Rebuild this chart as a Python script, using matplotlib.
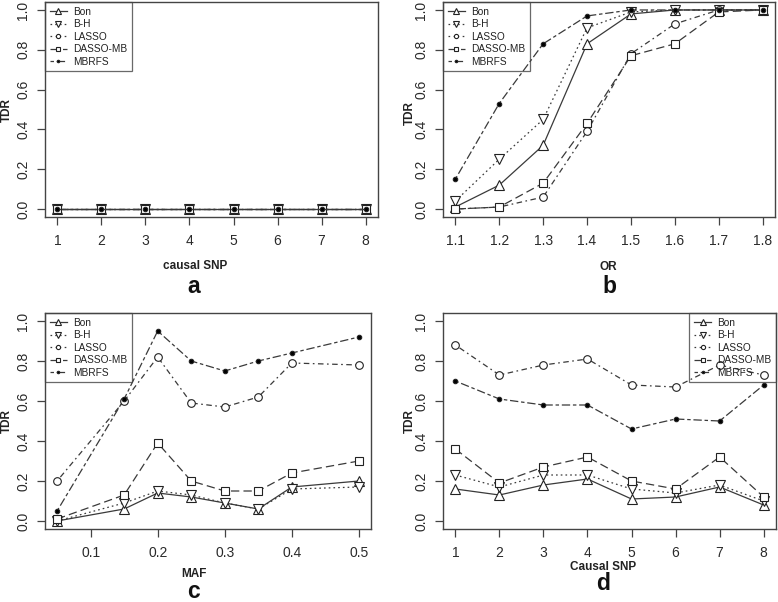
import matplotlib
matplotlib.use("Agg")
import matplotlib.pyplot as plt

plt.rcParams['font.family'] = ['Liberation Sans', 'DejaVu Sans']
plt.rcParams['lines.scale_dashes'] = False

methods = ["Bon", "B-H", "LASSO", "DASSO-MB", "MBRFS"]

# Panel a: causal SNP
x_a = [1, 2, 3, 4, 5, 6, 7, 8]
a_bon = [0, 0, 0, 0, 0, 0, 0, 0]
a_bh = [0, 0, 0, 0, 0, 0, 0, 0]
a_lasso = [0, 0, 0, 0, 0, 0, 0, 0]
a_dasso = [0, 0, 0, 0, 0, 0, 0, 0]
a_mbrfs = [0, 0, 0, 0, 0, 0, 0, 0]

# Panel b: OR
x_b = [1.1, 1.2, 1.3, 1.4, 1.5, 1.6, 1.7, 1.8]
b_bon = [0.01, 0.12, 0.32, 0.83, 0.98, 1.0, 1.0, 1.0]
b_bh = [0.04, 0.25, 0.45, 0.91, 0.99, 1.0, 1.0, 1.0]
b_lasso = [0.0, 0.01, 0.06, 0.39, 0.78, 0.93, 1.0, 1.0]
b_dasso = [0.0, 0.01, 0.13, 0.43, 0.77, 0.83, 0.99, 1.0]
b_mbrfs = [0.15, 0.53, 0.83, 0.97, 1.0, 1.0, 1.0, 1.0]

# Panel c: MAF
x_c = [0.05, 0.15, 0.2, 0.25, 0.3, 0.35, 0.4, 0.5]
c_bon = [0.0, 0.06, 0.14, 0.12, 0.09, 0.06, 0.17, 0.20]
c_bh = [0.0, 0.09, 0.15, 0.13, 0.09, 0.06, 0.16, 0.17]
c_lasso = [0.20, 0.60, 0.82, 0.59, 0.57, 0.62, 0.79, 0.78]
c_dasso = [0.01, 0.13, 0.39, 0.20, 0.15, 0.15, 0.24, 0.30]
c_mbrfs = [0.05, 0.61, 0.95, 0.80, 0.75, 0.80, 0.84, 0.92]

# Panel d: Causal SNP
x_d = [1, 2, 3, 4, 5, 6, 7, 8]
d_bon = [0.16, 0.13, 0.18, 0.21, 0.11, 0.12, 0.17, 0.08]
d_bh = [0.23, 0.17, 0.23, 0.23, 0.16, 0.14, 0.18, 0.10]
d_lasso = [0.88, 0.73, 0.78, 0.81, 0.68, 0.67, 0.78, 0.73]
d_dasso = [0.36, 0.19, 0.27, 0.32, 0.20, 0.16, 0.32, 0.12]
d_mbrfs = [0.70, 0.61, 0.58, 0.58, 0.46, 0.51, 0.50, 0.68]

x_ticks_c = [0.1, 0.2, 0.3, 0.4, 0.5]
y_ticks = [0.0, 0.2, 0.4, 0.6, 0.8, 1.0]

styles = [
    dict(ls='-', marker='^', ms=7.5, mfc='white'),
    dict(ls=(0, (1.2, 2.2)), marker='v', ms=7.5, mfc='white'),
    dict(ls=(0, (1.2, 2.5, 4, 2.5)), marker='o', ms=5.5, mfc='white'),
    dict(ls=(0, (6, 3)), marker='s', ms=5.5, mfc='white'),
    dict(ls=(0, (2.5, 2, 6, 2)), marker='o', ms=3.2, mfc='black'),
]

W, H = 778, 602
fig = plt.figure(figsize=(W / 100, H / 100), dpi=100)

LC = '#3a3a3a'
AC = '#444444'


def px_axes(l, r, t, b):
    return fig.add_axes([l / W, 1 - b / H, (r - l) / W, (b - t) / H])


def ftext(x, y, s, **kw):
    fig.text(x / W, 1 - y / H, s, **kw)


# (axes box, x, series, xticks, xlabel, letter, legend loc,
#  ylabel x/y, xlabel x/baseline, letter x/baseline)
panels = [
    (px_axes(45, 378, 2, 217), x_a, [a_bon, a_bh, a_lasso, a_dasso, a_mbrfs], x_a, 'causal SNP', 'a',
     'upper left', (7, 110), (195, 269), (194, 293)),
    (px_axes(443, 775, 2, 217), x_b, [b_bon, b_bh, b_lasso, b_dasso, b_mbrfs], x_b, 'OR', 'b',
     'upper left', (410, 113), (608, 270), (609, 293)),
    (px_axes(45, 371, 313, 529), x_c, [c_bon, c_bh, c_lasso, c_dasso, c_mbrfs], x_ticks_c, 'MAF', 'c',
     'upper left', (7, 421), (194, 577), (194, 598)),
    (px_axes(443, 776, 313, 529), x_d, [d_bon, d_bh, d_lasso, d_dasso, d_mbrfs], x_d, 'Causal SNP', 'd',
     'upper right', (410, 421), (603, 570), (603, 590)),
]

for ax, xs, series, xt, xlabel, letter, loc, ypos, xlpos, letpos in panels:
    for name, ys, st in zip(methods, series, styles):
        ax.plot(xs, ys, color=LC, lw=0.9, ls=st['ls'], marker=st['marker'],
                ms=st['ms'], mfc=st['mfc'], mec='#222222', mew=0.8, label=name)
    span = xs[-1] - xs[0]
    ax.set_xlim(xs[0] - 0.04 * span, xs[-1] + 0.04 * span)
    ax.set_ylim(-0.04, 1.04)
    ax.set_xticks(xt)
    ax.set_xticklabels([("%g" % v) for v in xt])
    ax.set_yticks(y_ticks)
    ax.set_yticklabels(["%.1f" % v for v in y_ticks], rotation=90, va='center')
    ax.tick_params(axis='both', direction='out', length=5.5, width=0.9,
                   color=AC, labelcolor='#2a2a2a', labelsize=10)
    ax.tick_params(axis='x', pad=7)
    ax.tick_params(axis='y', pad=5)
    for s in ax.spines.values():
        s.set_color(AC)
        s.set_linewidth(1.0)
    ftext(ypos[0], ypos[1], 'TDR', fontsize=8.5, fontweight='bold', color='#222222',
          rotation=90, ha='center', va='center')
    ftext(xlpos[0], xlpos[1], xlabel, fontsize=8.5, fontweight='bold', color='#222222',
          ha='center', va='baseline')
    ftext(letpos[0], letpos[1], letter, fontsize=16.5, fontweight='bold', color='#111111',
          ha='center', va='baseline')
    leg = ax.legend(loc=loc, bbox_to_anchor=(0, 1) if loc == 'upper left' else (1, 1),
                    borderaxespad=0, fontsize=7.3, frameon=True, fancybox=False,
                    edgecolor=AC, facecolor='none', framealpha=None, handlelength=1.7,
                    handletextpad=0.6, labelspacing=0.25, borderpad=0.45,
                    markerscale=0.55, numpoints=1)
    leg.get_frame().set_linewidth(0.9)
    for t in leg.get_texts():
        t.set_color('#222222')

fig.savefig('out.png', dpi=100)
